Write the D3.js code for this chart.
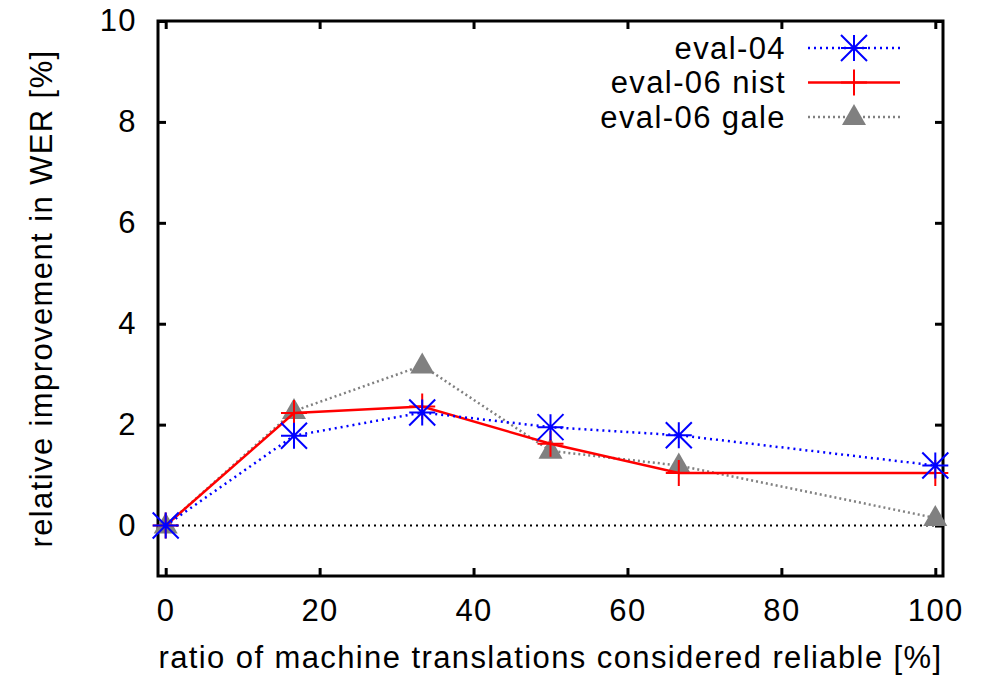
<!DOCTYPE html>
<html>
<head>
<meta charset="utf-8">
<script src="https://cdn.jsdelivr.net/npm/d3@7"></script>
<style>
  body { margin: 0; background: #fff; }
  svg text { font-family: "Liberation Sans", Arial, sans-serif; fill: #000; letter-spacing: 1.4px; }
</style>
</head>
<body>
<div id="chart"></div>
<script>
// data
var ratios = [0, 16.67, 33.33, 50, 66.67, 100];
var eval04 = [0, 1.78, 2.24, 1.95, 1.79, 1.19];
var eval06nist = [0, 2.23, 2.36, 1.62, 1.04, 1.04];
var eval06gale = [0, 2.27, 3.17, 1.48, 1.19, 0.15];
var xTicks = [0, 20, 40, 60, 80, 100];
var yTicks = [0, 2, 4, 6, 8, 10];

var width = 987, height = 683;
var margin = { left: 158, right: 44, top: 21, bottom: 107 };

var svg = d3.select('#chart').append('svg')
  .attr('width', width)
  .attr('height', height);

var x = d3.scaleLinear().domain([-1, 101]).range([margin.left, width - margin.right]);
var y = d3.scaleLinear().domain([-1, 10]).range([height - margin.bottom, margin.top]);

var fontSize = 31;
var tickLen = 8;

// zero line
svg.append('line')
  .attr('x1', x(-1)).attr('x2', x(101))
  .attr('y1', y(0)).attr('y2', y(0))
  .attr('stroke', '#000').attr('stroke-width', 2)
  .attr('stroke-dasharray', '2,4');

// axes with inward ticks, mirrored
var xb = svg.append('g').attr('transform', 'translate(0,' + y(-1) + ')')
  .call(d3.axisBottom(x).tickValues(xTicks).tickSize(-tickLen).tickPadding(tickLen + 15));
var xt = svg.append('g').attr('transform', 'translate(0,' + y(10) + ')')
  .call(d3.axisTop(x).tickValues(xTicks).tickSize(-tickLen).tickFormat(''));
var yl = svg.append('g').attr('transform', 'translate(' + x(-1) + ',0)')
  .call(d3.axisLeft(y).tickValues(yTicks).tickSize(-tickLen).tickPadding(tickLen + 13));
var yr = svg.append('g').attr('transform', 'translate(' + x(101) + ',0)')
  .call(d3.axisRight(y).tickValues(yTicks).tickSize(-tickLen).tickFormat(''));

[xb, xt, yl, yr].forEach(function (g) {
  g.select('.domain').remove();
  g.selectAll('.tick line').attr('stroke', '#000').attr('stroke-width', 3);
  g.selectAll('.tick text').style('font-size', fontSize + 'px').attr('fill', '#000');
});

// frame
svg.append('rect')
  .attr('x', x(-1)).attr('y', y(10))
  .attr('width', x(101) - x(-1)).attr('height', y(-1) - y(10))
  .attr('fill', 'none').attr('stroke', '#000').attr('stroke-width', 3);

// axis titles
svg.append('text')
  .attr('x', (x(-1) + x(101)) / 2 + 0)
  .attr('y', 668)
  .attr('text-anchor', 'middle')
  .style('font-size', fontSize + 'px')
  .text('ratio of machine translations considered reliable [%]');

svg.append('text')
  .attr('transform', 'translate(52,' + ((y(-1) + y(10)) / 2) + ') rotate(-90)')
  .attr('text-anchor', 'middle')
  .style('font-size', fontSize + 'px')
  .text('relative improvement in WER [%]');

// marker drawers
function star(g, cx, cy, col) {
  var r = 13;
  var d = 'M' + (cx - r) + ',' + cy + 'H' + (cx + r) +
          'M' + cx + ',' + (cy - r) + 'V' + (cy + r) +
          'M' + (cx - r) + ',' + (cy - r) + 'L' + (cx + r) + ',' + (cy + r) +
          'M' + (cx - r) + ',' + (cy + r) + 'L' + (cx + r) + ',' + (cy - r);
  g.append('path').attr('d', d).attr('stroke', col).attr('stroke-width', 2).attr('fill', 'none');
}
function plus(g, cx, cy, col) {
  var r = 13;
  var d = 'M' + (cx - r) + ',' + cy + 'H' + (cx + r) +
          'M' + cx + ',' + (cy - r) + 'V' + (cy + r);
  g.append('path').attr('d', d).attr('stroke', col).attr('stroke-width', 2).attr('fill', 'none');
}
function tri(g, cx, cy, col) {
  var w = 12, h = 21;
  var d = 'M' + cx + ',' + (cy - h * 0.62) +
          'L' + (cx + w) + ',' + (cy + h * 0.38) +
          'L' + (cx - w) + ',' + (cy + h * 0.38) + 'Z';
  g.append('path').attr('d', d).attr('fill', col).attr('stroke', 'none');
}

var series = [
  { name: 'eval-04', values: eval04, color: '#0000ff', dash: '2,4', width: 2.5, marker: star },
  { name: 'eval-06 nist', values: eval06nist, color: '#ff0000', dash: null, width: 2.5, marker: plus },
  { name: 'eval-06 gale', values: eval06gale, color: '#808080', dash: '2,3', width: 2.5, marker: tri }
];

var line = d3.line()
  .x(function (d) { return x(d[0]); })
  .y(function (d) { return y(d[1]); });

// draw in reverse order so eval-04 ends on top
series.slice().reverse().forEach(function (s) {
  var pts = ratios.map(function (r, i) { return [r, s.values[i]]; });
  var g = svg.append('g');
  g.append('path')
    .datum(pts)
    .attr('d', line)
    .attr('fill', 'none')
    .attr('stroke', s.color)
    .attr('stroke-width', s.width)
    .attr('stroke-dasharray', s.dash);
  pts.forEach(function (p) { s.marker(g, x(p[0]), y(p[1]), s.color); });
});

// legend
var legX = 786, legLine0 = 808, legLine1 = 900, legY0 = 48, legDy = 34.5;
series.forEach(function (s, i) {
  var ly = legY0 + i * legDy;
  var g = svg.append('g');
  g.append('text')
    .attr('x', legX).attr('y', ly)
    .attr('dy', '0.35em')
    .attr('text-anchor', 'end')
    .style('font-size', fontSize + 'px')
    .text(s.name);
  g.append('line')
    .attr('x1', legLine0).attr('x2', legLine1)
    .attr('y1', ly).attr('y2', ly)
    .attr('stroke', s.color).attr('stroke-width', s.width)
    .attr('stroke-dasharray', s.dash);
  s.marker(g, (legLine0 + legLine1) / 2, ly, s.color);
});
</script>
</body>
</html>
